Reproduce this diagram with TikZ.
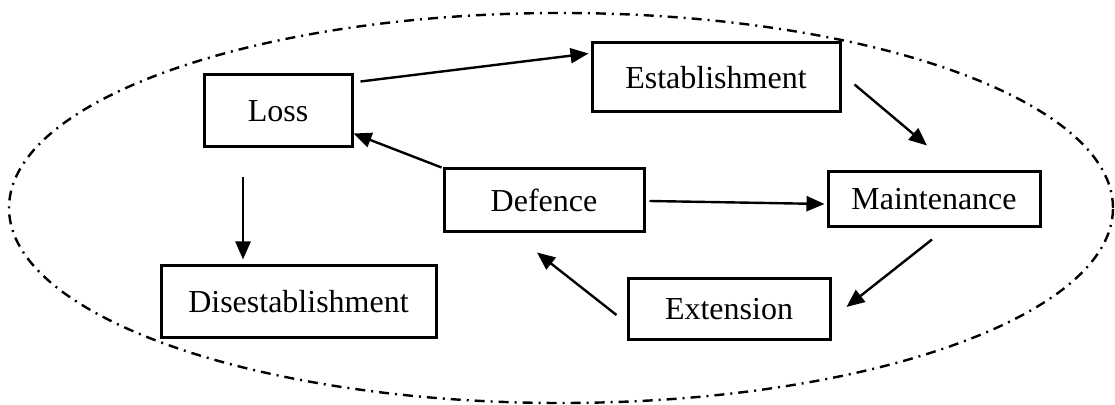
\documentclass[tikz,border=0pt]{standalone}
\usepackage{fontspec}
\setmainfont{Liberation Serif}
\usetikzlibrary{positioning,calc,arrows.meta}

\begin{document}
\begin{tikzpicture}[x=0.5pt,y=-0.5pt,
  stage/.style={draw, line width=1.5pt, inner sep=0pt, align=center, font=\fontsize{16}{19}\selectfont},
  flow/.style={-{Triangle[length=9pt,width=7.5pt]}, line width=1.2pt}]
\useasboundingbox (0,0) rectangle (1115,405);
\draw[line width=1.2pt, dash pattern=on 5pt off 3pt on 1pt off 3pt] (561,208) ellipse [x radius=276pt, y radius=97.5pt];
\node [stage, minimum width=74pt, minimum height=36pt] (loss) at (278,111) {Loss};
\node [stage, minimum width=124pt, minimum height=34.5pt] (establish) at (716,77.5) {Establishment};
\node [stage, minimum width=100pt, minimum height=31.5pt] (defence) at (544,200.5) {Defence};
\node [stage, minimum width=106pt, minimum height=27.5pt] (maintain) at (934,199.5) {Maintenance};
\node [stage, minimum width=137.5pt, minimum height=36pt] (disestablish) at (298.5,302) {Disestablishment};
\node [stage, minimum width=101pt, minimum height=30.5pt] (extension) at (729,309.5) {Extension};
\draw[flow] ($(loss.north east)+(7,8)$) -- ($(establish.north west)+(-2,12)$);
\draw[flow] ($(establish.south east)+(13,-29)$) -- ($(maintain.north)+(-7,-25)$);
\draw[flow] ($(defence.east)+(4,0.5)$) -- ($(maintain.west)+(-2,4.5)$);
\draw[flow] ($(maintain.south)+(-2,11)$) -- ($(extension.east)+(15,-2.5)$);
\draw[flow] ($(extension.west)+(-10,5.5)$) -- ($(defence.south)+(-7,19)$);
\draw[flow] ($(defence.north west)+(-1,0)$) -- ($(loss.south east)+(0,-15)$);
\draw[flow] ($(loss.south)+(-35,29)$) -- ($(disestablish.north)+(-55.5,-5)$);
\end{tikzpicture}
\end{document}
